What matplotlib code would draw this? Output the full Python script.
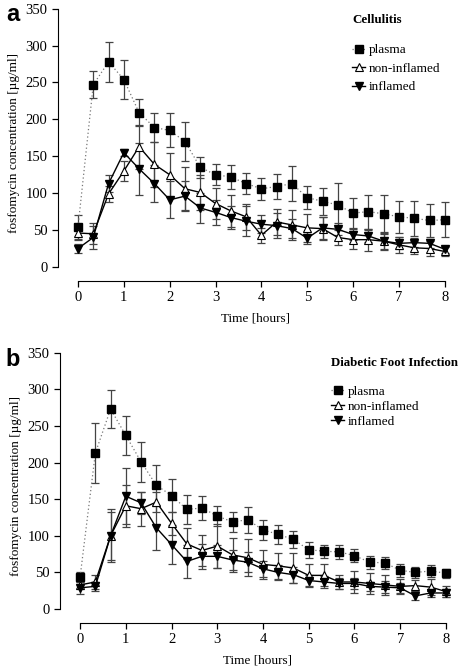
import numpy as np
import matplotlib
matplotlib.use("Agg")
import matplotlib.pyplot as plt

plt.rcParams['font.family'] = ['Liberation Serif', 'DejaVu Serif']

# sampling times (every 20 min)
time = np.arange(25) / 3.0

# panel a - cellulitis
a_plasma = [54, 247, 278, 254, 209, 189, 185, 170, 135, 125, 122, 113, 106,
            109, 113, 94, 89, 84, 73, 75, 72, 68, 66, 63, 64]
a_plasma_sd = [16, 18, 27, 27, 18, 20, 23, 27, 14, 14, 16, 14, 15, 17, 24,
               16, 18, 30, 20, 23, 26, 22, 24, 22, 24]
a_noninfl = [46, 45, 99, 130, 163, 139, 125, 106, 101, 86, 76, 68, 43, 61,
             57, 53, 52, 40, 37, 37, 35, 30, 26, 25, 21]
a_noninfl_sd = [9, 14, 11, 14, 30, 30, 30, 29, 24, 21, 22, 18, 10, 17, 20,
                19, 16, 10, 12, 15, 12, 11, 9, 10, 6]
a_infl = [25, 40, 113, 155, 133, 113, 91, 96, 80, 74, 67, 62, 58, 56, 52,
          39, 53, 51, 44, 42, 35, 32, 33, 32, 24]
a_infl_sd = [6, 16, 12, 5, 35, 25, 25, 20, 20, 17, 16, 20, 12, 17, 13, 8, 15,
             8, 8, 8, 10, 8, 6, 6, 5]

# panel b - diabetic foot infection
b_plasma = [44, 213, 273, 237, 201, 169, 155, 136, 138, 127, 119, 122, 108,
            102, 95, 81, 79, 78, 73, 64, 63, 53, 50, 52, 49]
b_plasma_sd = [7, 41, 26, 27, 27, 28, 22, 20, 17, 14, 14, 18, 14, 13, 12, 11,
               9, 10, 9, 9, 8, 9, 8, 8, 6]
b_noninfl = [33, 37, 100, 141, 137, 146, 117, 89, 80, 86, 74, 70, 61, 59, 56,
             46, 46, 37, 37, 35, 33, 31, 32, 30, 24]
b_noninfl_sd = [6, 10, 36, 29, 23, 14, 16, 21, 21, 30, 23, 25, 20, 18, 20, 16,
                15, 10, 15, 14, 14, 10, 8, 11, 8]
b_infl = [29, 31, 100, 154, 145, 111, 88, 65, 72, 72, 67, 64, 55, 50, 47, 39,
          37, 35, 35, 31, 30, 29, 18, 22, 22]
b_infl_sd = [8, 6, 33, 38, 15, 31, 27, 23, 17, 16, 13, 14, 11, 10, 11, 7, 8,
             8, 7, 6, 8, 7, 6, 5, 5]

W, H = 462, 672
fig = plt.figure(figsize=(W / 100, H / 100), dpi=100)


def make_axes(left_px, right_px, bottom_px, top_px):
    return fig.add_axes([left_px / W, 1 - bottom_px / H,
                         (right_px - left_px) / W, (bottom_px - top_px) / H])


def draw_panel(ax, plasma, plasma_sd, noninfl, noninfl_sd, infl, infl_sd,
               xleft, title, letter, letter_y, leg_xy, legend_spacing, sep):
    ebar = dict(ecolor='#444444', elinewidth=0.9, capsize=2.8, capthick=0.9,
                clip_on=False, zorder=2)
    ax.errorbar(time, plasma, yerr=plasma_sd, fmt='none', **ebar)
    ax.errorbar(time, noninfl, yerr=noninfl_sd, fmt='none', **ebar)
    ax.errorbar(time, infl, yerr=infl_sd, fmt='none', **ebar)
    ax.plot(time, plasma, ls=(0, (1, 2)), color='#777777', lw=0.9, marker='s',
            ms=5.5, mfc='black', mec='black', label='plasma', clip_on=False,
            zorder=3)
    ax.plot(time, noninfl, ls='-', color='black', lw=1.0, marker='^', ms=5.5,
            mfc='white', mec='black', mew=0.8, label='non-inflamed',
            clip_on=False, zorder=4)
    ax.plot(time, infl, ls='-', color='black', lw=1.0, marker='v', ms=5.5,
            mfc='black', mec='black', label='inflamed', clip_on=False,
            zorder=5)

    ax.set_xlim(xleft, 8.2)
    ax.set_ylim(-19, 355)
    ax.set_xticks(range(0, 9))
    ax.set_yticks(range(0, 351, 50))
    ax.spines['top'].set_visible(False)
    ax.spines['right'].set_visible(False)
    ax.spines['left'].set_bounds(0, 350)
    ax.spines['bottom'].set_bounds(0, 8)
    ax.tick_params(direction='out', length=4.5, width=0.9, labelsize=10.5,
                   pad=3)
    ax.set_xlabel('Time [hours]', fontsize=9.5, labelpad=6)
    ax.set_ylabel('fosfomycin concentration [µg/ml]', fontsize=9.5,
                  labelpad=4)

    leg = ax.legend(loc='upper left',
                    bbox_to_anchor=(leg_xy[0] / W, 1 - leg_xy[1] / H),
                    bbox_transform=fig.transFigure,
                    frameon=False, fontsize=9.5, handlelength=1.0,
                    handletextpad=0.3, labelspacing=legend_spacing,
                    title=title, alignment='left', borderaxespad=0,
                    borderpad=0)
    leg.get_title().set_fontweight('bold')
    leg.get_title().set_fontsize(9.3)
    leg._legend_box.sep = sep
    fig.text(13 / W, 1 - letter_y / H, letter, fontsize=17,
             fontweight='bold', family='Liberation Sans', va='baseline',
             ha='center')


ax_a = make_axes(58, 454, 281, 5)
draw_panel(ax_a, a_plasma, a_plasma_sd, a_noninfl, a_noninfl_sd, a_infl,
           a_infl_sd, -0.436, 'Cellulitis', 'a', 21, (352, 14), 0.47, 13)

ax_b = make_axes(60, 455, 623, 349)
draw_panel(ax_b, b_plasma, b_plasma_sd, b_noninfl, b_noninfl_sd, b_infl,
           b_infl_sd, -0.44, 'Diabetic Foot Infection', 'b', 366, (331, 357),
           0.2, 12)

fig.savefig('out.png', dpi=100)
